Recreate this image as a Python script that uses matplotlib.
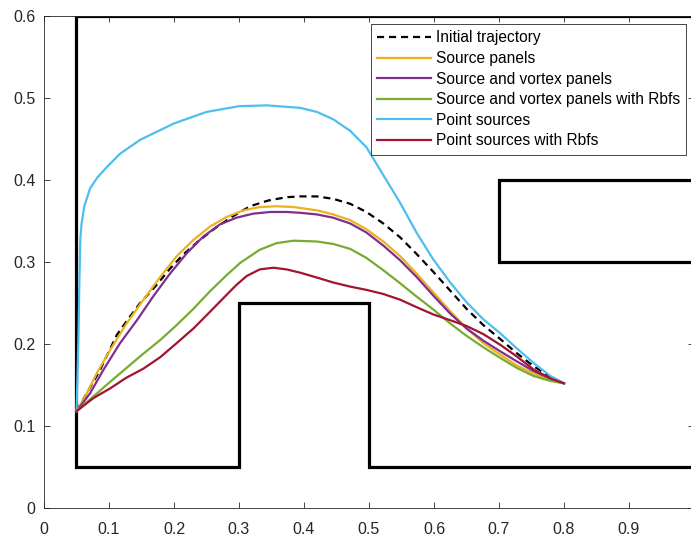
import numpy as np
import matplotlib
matplotlib.use("Agg")
import matplotlib.pyplot as plt

plt.rcParams['font.family'] = ['Liberation Sans', 'DejaVu Sans']

# Obstacle outlines (walls of the channel and the two blocks)
wall_x = [0.05, 0.05, 0.3, 0.3, 0.5, 0.5, 1.0]
wall_y = [0.6, 0.05, 0.05, 0.25, 0.25, 0.05, 0.05]
top_x = [0.05, 1.0]
top_y = [0.6, 0.6]
block_x = [1.0, 0.7, 0.7, 1.0]
block_y = [0.4, 0.4, 0.3, 0.3]

# Trajectories
init_x = [0.05, 0.086, 0.112, 0.130, 0.148, 0.171, 0.194, 0.214, 0.240, 0.263, 0.289,
          0.317, 0.345, 0.373, 0.394, 0.420, 0.445, 0.471, 0.496, 0.522, 0.548, 0.573,
          0.599, 0.625, 0.650, 0.676, 0.702, 0.727, 0.753, 0.779, 0.80]
init_y = [0.118, 0.168, 0.211, 0.231, 0.250, 0.270, 0.292, 0.309, 0.327, 0.341, 0.355,
          0.368, 0.375, 0.379, 0.380, 0.380, 0.377, 0.371, 0.361, 0.347, 0.330, 0.310,
          0.288, 0.265, 0.243, 0.223, 0.206, 0.189, 0.173, 0.160, 0.152]

src_x = [0.05, 0.066, 0.081, 0.102, 0.127, 0.153, 0.179, 0.204, 0.230, 0.255, 0.281,
         0.307, 0.332, 0.358, 0.384, 0.420, 0.445, 0.471, 0.496, 0.522, 0.548, 0.573,
         0.599, 0.625, 0.650, 0.676, 0.702, 0.727, 0.753, 0.779, 0.80]
src_y = [0.118, 0.140, 0.164, 0.193, 0.225, 0.254, 0.282, 0.307, 0.327, 0.343, 0.355,
         0.363, 0.367, 0.368, 0.367, 0.363, 0.358, 0.351, 0.340, 0.325, 0.307, 0.286,
         0.263, 0.240, 0.219, 0.201, 0.187, 0.174, 0.164, 0.156, 0.152]

srcvort_x = [0.05, 0.071, 0.091, 0.117, 0.143, 0.168, 0.194, 0.220, 0.245, 0.271,
             0.296, 0.322, 0.348, 0.373, 0.394, 0.420, 0.445, 0.471, 0.496, 0.522,
             0.548, 0.573, 0.599, 0.625, 0.650, 0.676, 0.702, 0.727, 0.753, 0.779, 0.80]
srcvort_y = [0.118, 0.140, 0.168, 0.201, 0.229, 0.258, 0.286, 0.311, 0.331, 0.346,
             0.354, 0.359, 0.361, 0.361, 0.360, 0.358, 0.354, 0.347, 0.336, 0.320,
             0.302, 0.282, 0.259, 0.237, 0.219, 0.204, 0.191, 0.179, 0.167, 0.158, 0.152]

srcvort_rbf_x = [0.05, 0.102, 0.148, 0.179, 0.204, 0.230, 0.255, 0.281, 0.302, 0.332,
                 0.358, 0.384, 0.420, 0.445, 0.471, 0.496, 0.522, 0.548, 0.573, 0.599,
                 0.625, 0.650, 0.676, 0.702, 0.727, 0.753, 0.779, 0.80]
srcvort_rbf_y = [0.118, 0.154, 0.185, 0.205, 0.223, 0.243, 0.264, 0.284, 0.299, 0.315,
                 0.323, 0.326, 0.325, 0.322, 0.316, 0.305, 0.290, 0.274, 0.258, 0.242,
                 0.225, 0.210, 0.196, 0.183, 0.171, 0.161, 0.155, 0.152]

pts_x = [0.05, 0.0515, 0.053, 0.0545, 0.056, 0.058, 0.062, 0.071, 0.082, 0.097, 0.117,
         0.148, 0.2, 0.25, 0.3, 0.343, 0.394, 0.420, 0.445, 0.471, 0.496, 0.522, 0.548,
         0.573, 0.599, 0.625, 0.650, 0.676, 0.702, 0.727, 0.753, 0.779, 0.80]
pts_y = [0.118, 0.160, 0.209, 0.280, 0.330, 0.348, 0.368, 0.390, 0.403, 0.416, 0.432,
         0.449, 0.469, 0.483, 0.490, 0.491, 0.488, 0.483, 0.474, 0.460, 0.440, 0.406,
         0.372, 0.336, 0.303, 0.275, 0.251, 0.230, 0.213, 0.195, 0.177, 0.161, 0.152]

pts_rbf_x = [0.05, 0.076, 0.102, 0.127, 0.153, 0.179, 0.204, 0.230, 0.255, 0.281,
             0.296, 0.312, 0.332, 0.353, 0.373, 0.394, 0.420, 0.445, 0.471, 0.496,
             0.522, 0.548, 0.573, 0.599, 0.625, 0.650, 0.676, 0.702, 0.727, 0.753,
             0.779, 0.80]
pts_rbf_y = [0.118, 0.134, 0.146, 0.159, 0.170, 0.184, 0.201, 0.219, 0.239, 0.260,
             0.272, 0.283, 0.291, 0.293, 0.291, 0.287, 0.281, 0.275, 0.270, 0.266,
             0.261, 0.254, 0.245, 0.236, 0.229, 0.222, 0.212, 0.199, 0.185, 0.169,
             0.158, 0.152]

labels = ["Initial trajectory", "Source panels", "Source and vortex panels",
          "Source and vortex panels with Rbfs", "Point sources",
          "Point sources with Rbfs"]
colors = ["black", "#EDB120", "#7E2F8E", "#77AC30", "#4DBEEE", "#A2142F"]

fig = plt.figure(figsize=(6.91, 5.38), dpi=100)
ax = fig.add_axes([44 / 691, 30 / 538, 650 / 691, 492 / 538])

for xs, ys in [(wall_x, wall_y), (top_x, top_y), (block_x, block_y)]:
    ax.plot(xs, ys, color="black", lw=2.3, solid_joinstyle="miter", zorder=2)

series = [(init_x, init_y), (src_x, src_y), (srcvort_x, srcvort_y),
          (srcvort_rbf_x, srcvort_rbf_y), (pts_x, pts_y), (pts_rbf_x, pts_rbf_y)]
handles = []
for (xs, ys), lab, c in zip(series, labels, colors):
    ls = (0, (3.2, 2.2)) if lab == "Initial trajectory" else "-"
    h, = ax.plot(xs, ys, color=c, lw=1.6, ls=ls, label=lab, zorder=3,
                 solid_joinstyle="round")
    handles.append(h)

ax.set_xlim(0, 1)
ax.set_ylim(0, 0.6)
ax.set_xticks(np.arange(0, 1.01, 0.1))
ax.set_xticklabels(["0", "0.1", "0.2", "0.3", "0.4", "0.5", "0.6", "0.7", "0.8", "0.9", "1"])
ax.set_yticks(np.arange(0, 0.61, 0.1))
ax.set_yticklabels(["0", "0.1", "0.2", "0.3", "0.4", "0.5", "0.6"])
ax.tick_params(direction="in", top=True, right=True, length=4, width=0.6,
               colors="#262626", labelsize=11.5, labelcolor="#262626")
ax.tick_params(axis="x", pad=10)
ax.tick_params(axis="y", pad=6)
for s in ax.spines.values():
    s.set_linewidth(0.6)
    s.set_color("#262626")

leg = ax.legend(handles=handles, loc="upper right", bbox_to_anchor=(0.988, 0.984),
                fontsize=11.2, handlelength=3.45, handletextpad=0.3, labelspacing=0.36,
                borderpad=0.42, borderaxespad=0, fancybox=False, framealpha=1,
                edgecolor="#262626")
leg.get_frame().set_linewidth(0.6)

fig.savefig("out.png", dpi=100)
